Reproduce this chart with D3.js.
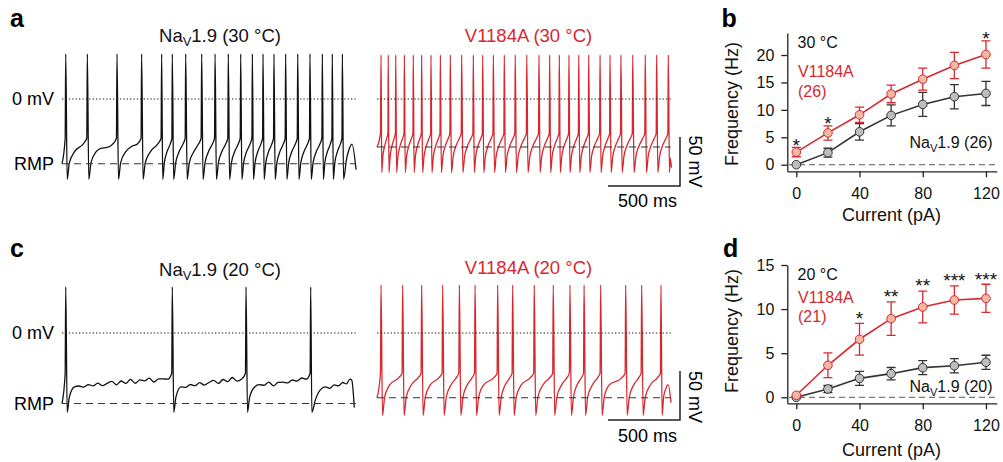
<!DOCTYPE html>
<html><head><meta charset="utf-8">
<script src="https://cdn.jsdelivr.net/npm/d3@7"></script>
<style>
body{margin:0;background:#fff;}
svg{display:block;font-family:"Liberation Sans",Arial,Helvetica,sans-serif;}
</style></head><body>
<svg id="fig" width="1003" height="462"></svg>
<script>
// ================= DATA =================
// F-I curves (current in pA, frequency in Hz, mean and SEM)
const currents = [0, 20, 40, 60, 80, 100, 120];
const nav30Mean = [0, 2.2, 6.0, 9.0, 11.0, 12.4, 13.0];
const nav30Err  = [0, 0.8, 1.5, 1.9, 2.2, 2.2, 2.2];
const mut30Mean = [2.3, 5.8, 9.1, 12.9, 15.6, 18.1, 20.1];
const mut30Err  = [0.85, 1.3, 1.4, 1.6, 2.0, 2.4, 2.5];
const stars30   = ["*", "*", "", "", "", "", "*"];
const nav20Mean = [0, 0.94, 2.15, 2.68, 3.36, 3.58, 3.97];
const nav20Err  = [0, 0.4, 0.8, 0.7, 0.8, 0.8, 0.8];
const mut20Mean = [0.23, 3.63, 6.58, 8.92, 10.24, 11.03, 11.22];
const mut20Err  = [0, 1.4, 1.8, 1.9, 1.8, 1.6, 1.6];
const stars20   = ["", "", "*", "**", "**", "***", "***"];
const yTicks30 = [0, 5, 10, 15, 20];
const yTicks20 = [0, 5, 10, 15];
const xTicks = [0, 40, 80, 120];

// Spike times (ms) in the 2-s current-clamp traces
const spikesNav30 = [26, 176, 382, 553, 692, 766, 859, 970, 1063, 1155, 1241, 1322, 1396, 1472, 1553, 1637, 1722, 1808, 1877, 1947];
const spikesMut30 = [28, 78, 130, 190, 252, 310, 375, 440, 509, 588, 669, 734, 808, 884, 960, 1040, 1125, 1199, 1266, 1333, 1401, 1470, 1549, 1618, 1694, 1776, 1863, 1942, 2023];
const spikesNav20 = [26, 766, 1278, 1727];
const spikesMut20 = [28, 178, 310, 456, 572, 681, 838, 942, 1092, 1224, 1340, 1438, 1553, 1727, 1838, 1972];
// end of each trace after the last spike: [ms, mV]
const tailNav30 = [[1975, -62], [1990, -53], [2014, -46], [2042, -72]];
const tailMut30 = [[2036, -60], [2045, -70]];
const tailNav20 = [[1760, -68], [1800, -57], [1830, -55], [1860, -56.5], [1890, -53], [1920, -54], [1950, -50.5], [1975, -52], [2000, -47], [2012, -48], [2030, -76]];
const tailMut20 = [[1990, -66], [2005, -57], [2022, -53], [2042, -71]];
// membrane levels (mV): RMP, spike peak, AHP trough, early/late interspike level, threshold
const levelsNav30 = {rmp: -66, peak: 46, trough: -82, plat0: -54, plat1: -46, thr: -40};
const levelsMut30 = {rmp: -49, peak: 45, trough: -75, plat0: -48, plat1: -40, thr: -35};
const levelsNav20 = {rmp: -72, peak: 47, trough: -81, plat0: -55, plat1: -47, thr: -41};
const levelsMut20 = {rmp: -66, peak: 49, trough: -84, plat0: -53, plat1: -46, thr: -41};
// small membrane fluctuations (mV) on the slow interspike plateau of the NaV1.9 traces
const rippleNav30 = [1.2, -0.8, 1.5, -0.5, 1.8, -1.0, 1.0, 0.3, 1.6, -0.6];
const rippleNav20 = [0.5, -1.0, 1.2, -0.6, 1.8, -1.2, 0.8, 2.4, -1.4, 2.0, -0.8, 2.8, -1.5, 1.5, 0.2, 2.6, -1.8, 1.0];

// ================= DRAWING =================
const RED = "#d7282f", RED_FILL = "#f3b8a3", DARK = "#333", GRAY_FILL = "#bdbdbd";
const svg = d3.select("#fig");
const PXMS = 0.144, PXMV = 0.98;

function buildTrace(spikes, p, tail, ripple) {
  const pts = [[0, p.rmp], [spikes[0] - 4, p.thr]];
  let ri = 0;
  spikes.forEach((s, i) => {
    pts.push([s, p.peak]);
    if (i < spikes.length - 1) {
      const n = spikes[i + 1], D = n - s;
      const tP0 = s + Math.min(60, 0.5 * D), tP1 = n - Math.min(30, 0.2 * D);
      pts.push([s + Math.min(10, 0.1 * D), p.trough]);
      pts.push([s + Math.min(25, 0.25 * D), p.trough + 0.6 * (p.plat0 - p.trough)]);
      pts.push([tP0, p.plat0]);
      if (ripple && D > 120) {
        const k = Math.floor((tP1 - tP0) / 32);
        for (let j = 1; j < k; j++) {
          const f = j / k;
          pts.push([tP0 + f * (tP1 - tP0), p.plat0 + f * (p.plat1 - p.plat0) + ripple[ri++ % ripple.length]]);
        }
      }
      pts.push([tP1, p.plat1]);
      pts.push([n - Math.min(4, 0.04 * D), p.thr]);
    } else {
      pts.push([s + 8, p.trough]);
      tail.forEach(t => pts.push(t));
    }
  });
  return pts;
}

function subLabel(sel, pre, sub, post) {
  sel.append("tspan").text(pre);
  sel.append("tspan").text(sub).attr("font-size", "0.7em").attr("dy", 4);
  sel.append("tspan").text(post).attr("dy", -4);
}

function drawTrace(o) {
  const g = svg.append("g");
  const x = d3.scaleLinear().domain([0, 2040]).range([o.x0, o.x0 + 2040 * PXMS]);
  const y = d3.scaleLinear().domain([0, 50]).range([o.zeroY, o.zeroY - 50 * PXMV]);
  const pts = buildTrace(o.spikes, o.lv, o.tail, o.ripple);
  g.append("path").datum(pts)
    .attr("d", d3.line().x(d => x(d[0])).y(d => y(d[1])).curve(d3.curveMonotoneX))
    .attr("fill", "none").attr("stroke", o.color).attr("stroke-width", 1.3)
    .attr("stroke-linejoin", "round");
  g.append("line").attr("x1", x(0)).attr("x2", x(2040)).attr("y1", y(0)).attr("y2", y(0))
    .attr("stroke", "#222").attr("stroke-width", 1.1).attr("stroke-dasharray", "1.4,2");
  g.append("line").attr("x1", x(0)).attr("x2", x(2040)).attr("y1", y(o.lv.rmp)).attr("y2", y(o.lv.rmp))
    .attr("stroke", "#333").attr("stroke-width", 1.1).attr("stroke-dasharray", "7,5");
  return {x, y};
}

function drawTitle(x, y, parts, color) {
  const t = svg.append("text").attr("x", x).attr("y", y).attr("text-anchor", "middle")
    .attr("font-size", 18.5).attr("fill", color);
  if (parts.length === 3) subLabel(t, ...parts); else t.text(parts[0]);
}

// ---- row 1 traces ----
svg.append("text").attr("x", 10).attr("y", 27).attr("font-size", 25).attr("font-weight", "bold").text("a");
drawTitle(220, 42, ["Na", "V", "1.9 (30 °C)"], "#111");
drawTitle(528.5, 41.5, ["V1184A (30 °C)"], RED);
drawTrace({x0: 62, zeroY: 99, spikes: spikesNav30, lv: levelsNav30, tail: tailNav30, ripple: rippleNav30, color: "#111"});
drawTrace({x0: 377, zeroY: 99, spikes: spikesMut30, lv: levelsMut30, tail: tailMut30, color: RED});
svg.append("text").attr("x", 54).attr("y", 104.5).attr("text-anchor", "end").attr("font-size", 18).text("0 mV");
svg.append("text").attr("x", 54).attr("y", 170).attr("text-anchor", "end").attr("font-size", 18).text("RMP");

// ---- row 2 traces ----
svg.append("text").attr("x", 10).attr("y", 257).attr("font-size", 25).attr("font-weight", "bold").text("c");
drawTitle(220, 275.5, ["Na", "V", "1.9 (20 °C)"], "#111");
drawTitle(528.5, 274, ["V1184A (20 °C)"], RED);
drawTrace({x0: 62, zeroY: 333, spikes: spikesNav20, lv: levelsNav20, tail: tailNav20, ripple: rippleNav20, color: "#111"});
drawTrace({x0: 377, zeroY: 333, spikes: spikesMut20, lv: levelsMut20, tail: tailMut20, color: RED});
svg.append("text").attr("x", 54).attr("y", 338.5).attr("text-anchor", "end").attr("font-size", 18).text("0 mV");
svg.append("text").attr("x", 54).attr("y", 409.5).attr("text-anchor", "end").attr("font-size", 18).text("RMP");

// ---- scale bars ----
function scaleBar(xRight, yBottom, vCenter, tBase) {
  const w = 500 * PXMS, h = 50 * PXMV;
  svg.append("path").attr("d", `M${xRight - w},${yBottom}H${xRight}V${yBottom - h}`)
    .attr("fill", "none").attr("stroke", "#222").attr("stroke-width", 1.5);
  svg.append("text").attr("transform", `translate(689,${vCenter}) rotate(90)`)
    .attr("text-anchor", "middle").attr("font-size", 18).text("50 mV");
  svg.append("text").attr("x", 647.5).attr("y", tBase).attr("text-anchor", "middle")
    .attr("font-size", 18).text("500 ms");
}
scaleBar(680, 186, 161.5, 206.5);
scaleBar(680, 420, 397, 441.5);

// ---- F-I panels ----
function drawFI(o) {
  const g = svg.append("g");
  const x = d3.scaleLinear().domain([-5.7, 126.8]).range([787.3, 996.7]);
  const y = d3.scaleLinear().domain(o.yDomain).range(o.yRange);
  const ax = g.append("g").attr("transform", `translate(0,${o.yRange[0]})`)
    .call(d3.axisBottom(x).tickValues(xTicks).tickSize(6).tickSizeOuter(0).tickPadding(10));
  const ay = g.append("g").attr("transform", `translate(787.3,0)`)
    .call(d3.axisLeft(y).tickValues(o.yTicks).tickSize(6).tickSizeOuter(0).tickPadding(7));
  [ax, ay].forEach(a => {
    a.selectAll("path,line").attr("stroke", "#222").attr("stroke-width", 1.3);
    a.selectAll("text").attr("font-size", 16).attr("fill", "#111")
      .attr("font-family", '"Liberation Sans",Arial,sans-serif');
  });
  g.append("line").attr("x1", 789).attr("x2", 995).attr("y1", y(0)).attr("y2", y(0))
    .attr("stroke", "#555").attr("stroke-width", 1).attr("stroke-dasharray", "6,4");
  g.append("text").attr("x", 891.5).attr("y", o.xTitleY).attr("text-anchor", "middle")
    .attr("font-size", 18).attr("fill", "#111").text("Current (pA)");
  g.append("text").attr("transform", `translate(738,${o.yTitleC}) rotate(-90)`).attr("text-anchor", "middle")
    .attr("font-size", 18).attr("fill", "#111").text("Frequency (Hz)");
  const series = [
    {m: o.nav, e: o.navErr, stroke: DARK, fill: GRAY_FILL},
    {m: o.mut, e: o.mutErr, stroke: RED, fill: RED_FILL}
  ];
  series.forEach(s => {
    g.append("path").datum(currents)
      .attr("d", d3.line().x(c => x(c)).y((c, i) => y(s.m[i])))
      .attr("fill", "none").attr("stroke", s.stroke).attr("stroke-width", 1.6);
    currents.forEach((c, i) => {
      if (s.e[i] <= 0) return;
      const cx = x(c), y1 = y(s.m[i] - s.e[i]), y2 = y(s.m[i] + s.e[i]);
      g.append("path").attr("d", `M${cx},${y1}V${y2}M${cx - 4.5},${y1}H${cx + 4.5}M${cx - 4.5},${y2}H${cx + 4.5}`)
        .attr("fill", "none").attr("stroke", s.stroke).attr("stroke-width", 1.3);
    });
  });
  series.forEach(s => {
    g.selectAll(null).data(currents).enter().append("circle")
      .attr("cx", c => x(c)).attr("cy", (c, i) => y(s.m[i])).attr("r", 4.3)
      .attr("fill", s.fill).attr("stroke", s.stroke).attr("stroke-width", 1);
  });
  currents.forEach((c, i) => {
    if (!o.stars[i]) return;
    g.append("text").attr("x", x(c)).attr("y", y(o.mut[i] + o.mutErr[i]) - o.starGap + 10.8)
      .attr("text-anchor", "middle").attr("font-size", 19).attr("fill", "#111").text(o.stars[i]);
  });
  g.append("text").attr("x", 797.5).attr("y", o.lab[0]).attr("font-size", 16).attr("fill", "#111").text(o.temp);
  g.append("text").attr("x", 798).attr("y", o.lab[1]).attr("font-size", 16).attr("fill", RED).text("V1184A");
  g.append("text").attr("x", 798).attr("y", o.lab[2]).attr("font-size", 16).attr("fill", RED).text(o.nMut);
  const t = g.append("text").attr("x", 992.5).attr("y", o.lab[3]).attr("text-anchor", "end")
    .attr("font-size", 16).attr("fill", "#111");
  subLabel(t, "Na", "V", "1.9 " + o.nNav);
}

svg.append("text").attr("x", 721.5).attr("y", 27).attr("font-size", 25).attr("font-weight", "bold").text("b");
drawFI({yDomain: [-1.2, 24], yRange: [171.3, 33.1], yTicks: yTicks30,
  nav: nav30Mean, navErr: nav30Err, mut: mut30Mean, mutErr: mut30Err, stars: stars30, starGap: 6.5,
  xTitleY: 220.5, yTitleC: 104, lab: [48.3, 77.3, 96.5, 148.3], temp: "30 °C", nMut: "(26)", nNav: "(26)"});

svg.append("text").attr("x", 723).attr("y", 257).attr("font-size", 25).attr("font-weight", "bold").text("d");
drawFI({yDomain: [-0.68, 15], yRange: [403.3, 265], yTicks: yTicks20,
  nav: nav20Mean, navErr: nav20Err, mut: mut20Mean, mutErr: mut20Err, stars: stars20, starGap: 9.5,
  xTitleY: 455.5, yTitleC: 331, lab: [279.5, 303.3, 321.5, 391.7], temp: "20 °C", nMut: "(21)", nNav: "(20)"});
</script>
</body></html>
